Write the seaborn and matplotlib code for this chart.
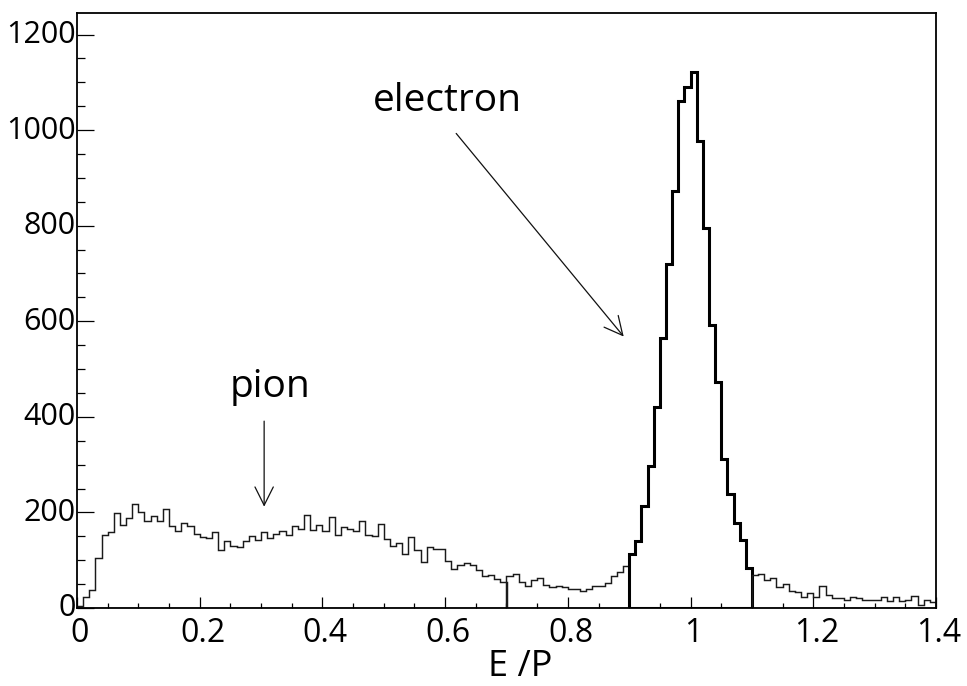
import numpy as np
import pandas as pd
import matplotlib
matplotlib.use("Agg")
import matplotlib.pyplot as plt
from matplotlib.ticker import MultipleLocator
from matplotlib.transforms import ScaledTranslation
import seaborn as sns

# ---------------- data ----------------
bin_width = 0.01
segment_starts = [0.0, 0.7, 0.9, 1.1]

pion_counts = [5, 23, 38, 104, 153, 158, 198, 174, 189, 217,
               200, 182, 193, 182, 207, 171, 161, 177, 171, 155,
               149, 146, 158, 121, 141, 130, 128, 141, 151, 142,
               160, 147, 155, 162, 153, 172, 165, 195, 163, 174,
               161, 191, 152, 169, 166, 161, 181, 153, 151, 176,
               144, 130, 135, 113, 149, 122, 97, 128, 123, 123,
               99, 81, 90, 94, 91, 79, 66, 70, 60, 54]
valley_counts = [68, 71, 54, 47, 58, 62, 49, 43, 45, 43,
                 40, 40, 35, 40, 45, 45, 53, 66, 76, 87]
electron_counts = [112, 140, 214, 297, 421, 566, 720, 873, 1061, 1091,
                   1121, 977, 796, 592, 473, 311, 238, 178, 142, 84]
tail_counts = [70, 71, 58, 62, 43, 51, 36, 34, 24, 31,
               24, 45, 27, 20, 20, 17, 22, 20, 17, 17,
               17, 22, 15, 24, 15, 17, 26, 6, 17, 13]

x_ticks = [0.0, 0.2, 0.4, 0.6, 0.8, 1.0, 1.2, 1.4]
x_tick_labels = ["0", "0.2", "0.4", "0.6", "0.8", "1", "1.2", "1.4"]
y_ticks = [0, 200, 400, 600, 800, 1000, 1200]
y_tick_labels = ["0", "200", "400", "600", "800", "1000", "1200"]

x_label = "E /P"
electron_label = "electron"
pion_label = "pion"
electron_text_pos = (0.482, 1040)
electron_arrow_tail = (0.618, 993)
electron_arrow_tip = (0.891, 568)
pion_text_pos = (0.249, 442)
pion_arrow_tail = (0.305, 391)
pion_arrow_tip = (0.305, 212)

# ---------------- style ----------------
sns.set_theme(style="white")
plt.rcParams["font.family"] = ["Open Sans", "DejaVu Sans"]

fig = plt.figure(figsize=(9.67, 6.86), dpi=100)
ax = fig.add_axes([77 / 967, 78 / 686, 859 / 967, 595 / 686])

segments = [pion_counts, valley_counts, electron_counts, tail_counts]
widths = [1.05, 1.05, 2.2, 1.05]
colors = ["#1a1a1a", "#1a1a1a", "#000000", "#1a1a1a"]
for start, counts, lw, col in zip(segment_starts, segments, widths, colors):
    n = len(counts)
    edges = [start + bin_width * i for i in range(n + 1)]
    centers = [e + bin_width / 2 for e in edges[:-1]]
    df = pd.DataFrame({"ep": centers, "count": counts})
    sns.histplot(data=df, x="ep", weights="count", bins=edges,
                 element="step", fill=True, color=col, facecolor="none",
                 edgecolor=col, linewidth=lw, joinstyle="miter", ax=ax)

ax.set_xlim(0, 1.4)
ax.set_ylim(0, 1245)
ax.set_ylabel("")

ax.set_xticks(x_ticks, labels=x_tick_labels)
ax.set_yticks(y_ticks, labels=y_tick_labels)
ax.xaxis.set_minor_locator(MultipleLocator(0.05))
ax.yaxis.set_minor_locator(MultipleLocator(50))

ax.tick_params(axis="x", which="major", direction="in", length=8, width=0.9,
               bottom=True, top=False, pad=6.5, color="black")
ax.tick_params(axis="x", which="minor", direction="in", length=3.6, width=0.9,
               bottom=True, top=False, color="black")
ax.tick_params(axis="y", which="major", direction="in", length=12.5, width=0.9,
               left=True, right=False, pad=1, color="black")
ax.tick_params(axis="y", which="minor", direction="in", length=6, width=0.9,
               left=True, right=False, color="black")

y_shift = ScaledTranslation(0, 3 / 100, fig.dpi_scale_trans)
x_shift = ScaledTranslation(3 / 100, 0, fig.dpi_scale_trans)
for lbl in ax.get_yticklabels():
    lbl.set_fontsize(22)
    lbl.set_color("black")
    lbl.set_transform(lbl.get_transform() + y_shift)
for lbl in ax.get_xticklabels():
    lbl.set_fontsize(23)
    lbl.set_color("black")
    lbl.set_transform(lbl.get_transform() + x_shift)

ax.set_xlabel(x_label, fontsize=26, color="black")
ax.xaxis.set_label_coords(0.516, -0.1294)
ax.xaxis.label.set_va("bottom")

for side in ["left", "bottom", "top", "right"]:
    ax.spines[side].set_visible(True)
    ax.spines[side].set_color("black")
    ax.spines[side].set_linewidth(1.3)

ax.text(*electron_text_pos, electron_label, fontsize=28, color="black",
        ha="left", va="baseline")
ax.text(*pion_text_pos, pion_label, fontsize=28, color="black",
        ha="left", va="baseline")

arrow_kw = dict(arrowstyle="->", lw=0.9, color="#111111",
                mutation_scale=33, shrinkA=0, shrinkB=0)
ax.annotate("", xy=electron_arrow_tip, xytext=electron_arrow_tail,
            arrowprops=arrow_kw)
ax.annotate("", xy=pion_arrow_tip, xytext=pion_arrow_tail,
            arrowprops=arrow_kw)

fig.savefig("out.png", dpi=100)
